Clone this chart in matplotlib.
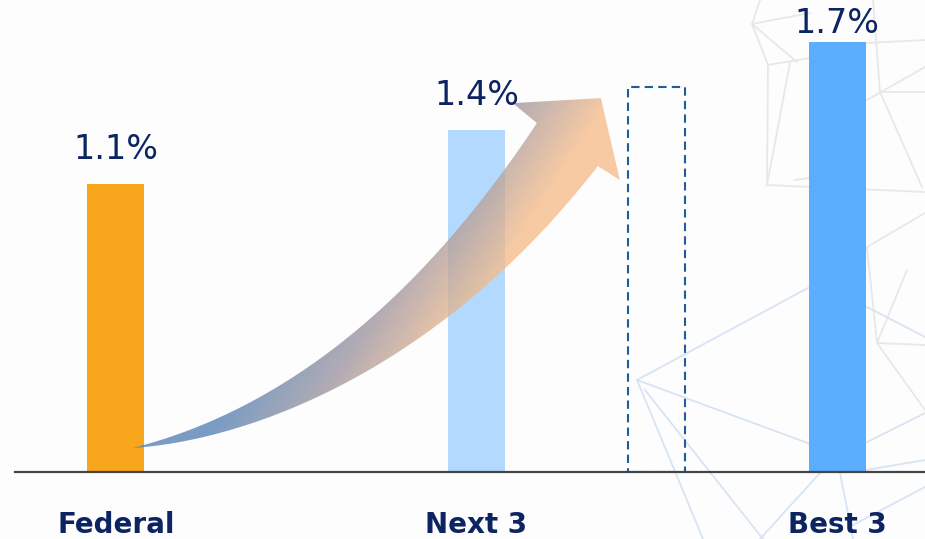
import matplotlib
matplotlib.use('Agg')
import matplotlib.pyplot as plt
import numpy as np
from matplotlib.path import Path
from matplotlib.patches import PathPatch, Rectangle
from matplotlib.colors import LinearSegmentedColormap

plt.rcParams['font.family'] = ['DejaVu Sans Condensed', 'DejaVu Sans']

# data
categories = ['Federal', 'Next 3', 'Best 3']
positions = [0, 2, 4]
values = [1.14, 1.35, 1.70]
value_labels = ['1.1%', '1.4%', '1.7%']
bar_colors = ['#f8a61c', '#b3d9fe', '#5badfd']
label_pad = [13, 13, 1.5]
target_pos = 3
target_value = 1.52

navy = '#0c2461'

fig = plt.figure(figsize=(9.25, 5.39), dpi=100)
fig.patch.set_facecolor('#fdfdfd')

# background mesh (decoration, figure pixels)
bg = fig.add_axes([0, 0, 1, 1], zorder=0)
bg.set_xlim(0, 925)
bg.set_ylim(539, 0)
bg.axis('off')
gray_lines = [((760, 0), (752, 24)), ((752, 24), (768, 65)), ((752, 24), (797, 62)),
              ((752, 24), (810, 13)), ((768, 65), (767, 185)), ((768, 65), (810, 58)),
              ((790, 63), (767, 185)), ((767, 185), (925, 192)), ((795, 180), (830, 175)),
              ((873, 0), (880, 92)), ((880, 92), (925, 92)), ((880, 92), (922, 187)),
              ((867, 100), (925, 67)), ((867, 43), (925, 40)), ((867, 247), (925, 213)),
              ((867, 247), (877, 343)), ((877, 343), (925, 345)), ((877, 343), (925, 410)),
              ((877, 343), (907, 270))]
blue_lines = [((637, 380), (808, 288)), ((637, 380), (840, 455)), ((867, 442), (925, 413)),
              ((867, 307), (925, 337)), ((637, 380), (703, 539)), ((645, 390), (763, 539)),
              ((820, 473), (760, 539)), ((840, 473), (853, 539)), ((866, 470), (925, 460)),
              ((853, 525), (925, 487))]
for (x0, y0), (x1, y1) in gray_lines:
    bg.plot([x0, x1], [y0, y1], color='#e8e8e8', lw=1.3)
for (x0, y0), (x1, y1) in blue_lines:
    bg.plot([x0, x1], [y0, y1], color='#d8e4f3', lw=1.3)

ax = fig.add_axes([15 / 925, 67 / 539, 1 - 15 / 925, 472 / 539], zorder=1)
ax.patch.set_alpha(0)

ax.bar(positions, values, width=0.316, color=bar_colors, zorder=2)
ax.add_patch(Rectangle((target_pos - 0.158, 0), 0.316, target_value, fill=False,
                       edgecolor='#1f5c99', linestyle=(0, (4, 2.5)), lw=1.5, zorder=2))

for x, v, lab, pad in zip(positions, values, value_labels, label_pad):
    ax.annotate(lab, (x, v), xytext=(0, pad), textcoords='offset points',
                ha='center', va='bottom', fontsize=24, color=navy, zorder=5)

# curved gradient arrow
def quad(p0, c, p2, n=60):
    t = np.linspace(0, 1, n)[:, None]
    return (1 - t) ** 2 * np.array(p0) + 2 * (1 - t) * t * np.array(c) + t ** 2 * np.array(p2)

def cubic(p0, c1, c2, p3, n=60):
    t = np.linspace(0, 1, n)[:, None]
    return ((1 - t) ** 3 * np.array(p0) + 3 * (1 - t) ** 2 * t * np.array(c1)
            + 3 * (1 - t) * t ** 2 * np.array(c2) + t ** 3 * np.array(p3))

start = (0.094, 0.095)
upper = quad(start, (1.353, 0.324), (2.335, 1.379))
head = np.array([(2.202, 1.458), (2.690, 1.478), (2.795, 1.154), (2.673, 1.209)])
lower = cubic(start, (0.743, 0.126), (1.797, 0.403), (2.673, 1.209))[::-1]
verts = np.vstack([upper, head, lower[1:]])
arrow_patch = PathPatch(Path(verts, closed=False), facecolor='none', edgecolor='none')
ax.add_patch(arrow_patch)

gx = np.linspace(0, 2.9, 300)
gy = np.linspace(0, 1.55, 200)
GX, GY = np.meshgrid(gx, gy)
T = np.clip(0.9907 * GX - 0.9108 * GY - 0.38, 0, 1)
cmap = LinearSegmentedColormap.from_list('arr', [(0, '#5480b3'), (0.5, '#9f959f'), (1, '#f6bc89')])
im = ax.imshow(T, extent=(0, 2.9, 0, 1.55), origin='lower', cmap=cmap, vmin=0, vmax=1,
               aspect='auto', alpha=0.78, zorder=3, interpolation='bilinear')
im.set_clip_path(arrow_patch)

ax.set_xlim(-0.56, 4.488)
ax.set_ylim(0, 472 / 253)
ax.set_xticks(positions)
ax.set_xticklabels(categories, fontsize=20, fontweight='bold', color=navy)
ax.tick_params(axis='x', length=0, pad=28)
ax.set_yticks([])
for s in ['top', 'right', 'left']:
    ax.spines[s].set_visible(False)
ax.spines['bottom'].set_color('#444444')
ax.spines['bottom'].set_linewidth(1.6)

fig.savefig('out.png', dpi=100)
